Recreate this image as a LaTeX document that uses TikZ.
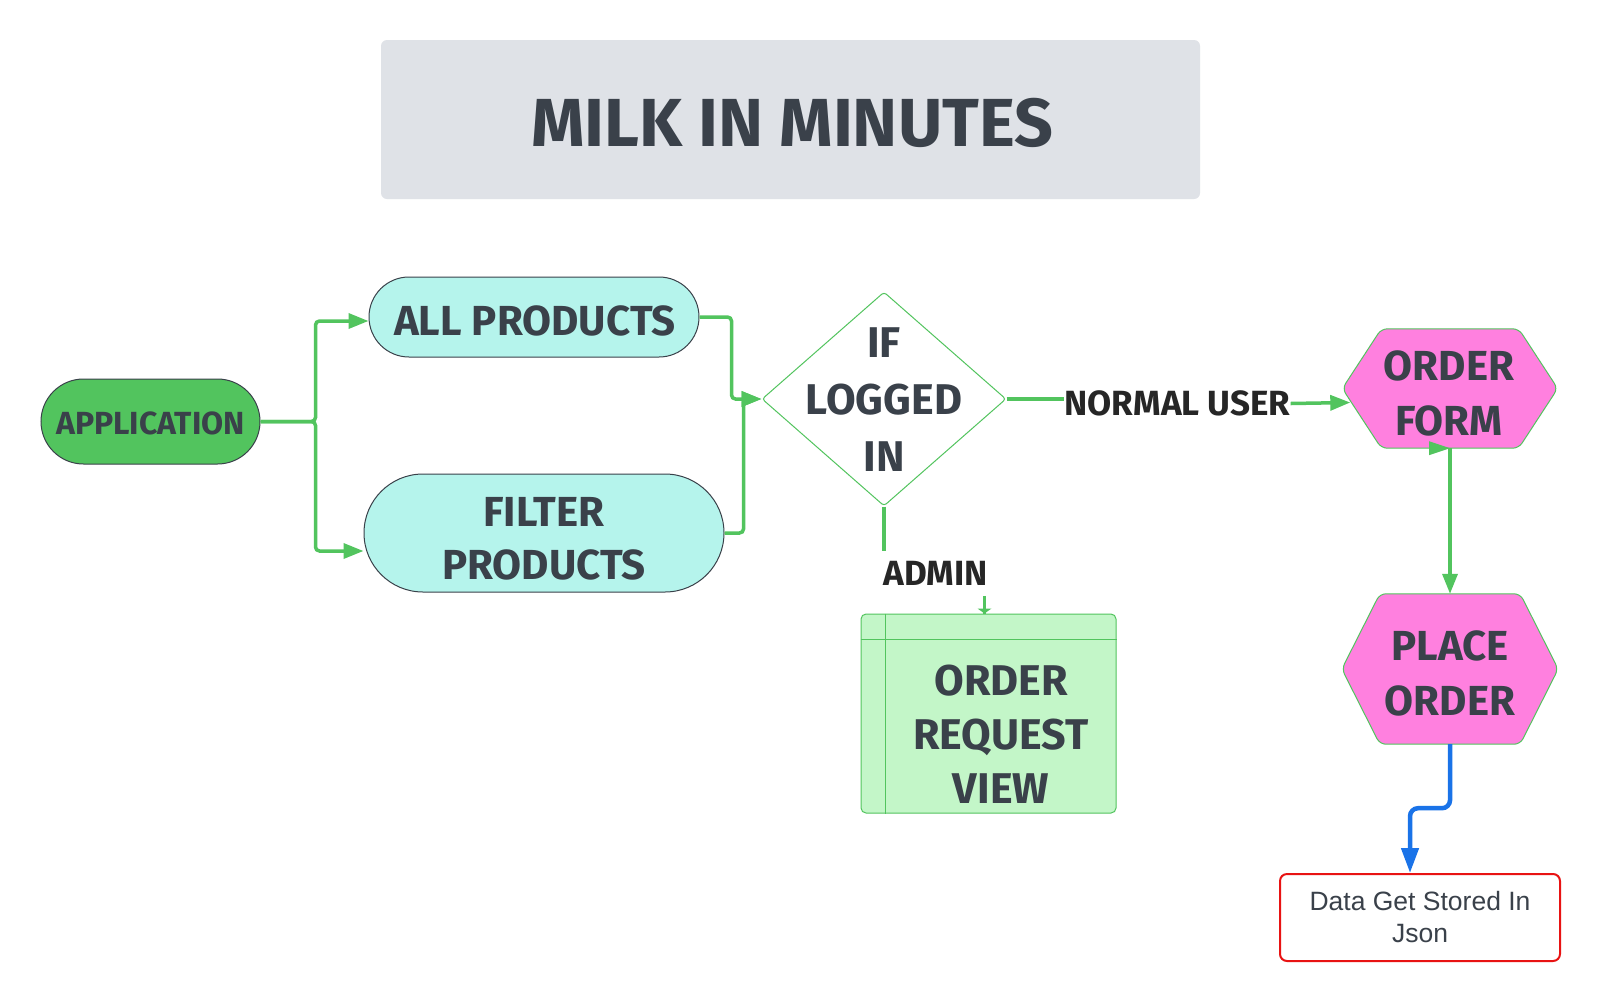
\documentclass[tikz,border=0pt]{standalone}
\usepackage{fontspec}
\setmainfont{Liberation Sans}
\newfontfamily\hand{Fira Sans}
\usetikzlibrary{arrows.meta,shapes.geometric,shapes.misc,calc}
\definecolor{grn}{HTML}{52C45E}
\definecolor{ink}{HTML}{3A414A}
\definecolor{lbl}{HTML}{262626}
\definecolor{cyanf}{HTML}{B5F4EC}
\definecolor{pinkf}{HTML}{FF80DF}
\definecolor{lgreen}{HTML}{C3F6C8}
\definecolor{titlebg}{HTML}{DFE2E7}
\definecolor{blu}{HTML}{1A73E8}
\definecolor{redb}{HTML}{E81313}
\begin{document}
\begin{tikzpicture}[x=1pt,y=-1pt,
  txt/.style={font=\hand\bfseries\fontsize{42}{55}\selectfont, text=ink, align=center, inner sep=0pt},
  small/.style={font=\hand\bfseries\fontsize{32}{40}\selectfont, text=ink, align=center, inner sep=0pt},
  titlef/.style={font=\hand\bfseries\fontsize{68}{80}\selectfont, text=ink, inner sep=0pt},
  lab/.style={font=\hand\bfseries\fontsize{35}{40}\selectfont, text=lbl, inner sep=0pt},
  stad/.style={rounded rectangle, draw=ink, line width=1pt, inner sep=0pt},
  box/.style={inner sep=0pt},
  hexs/.style={draw=grn, fill=pinkf, line width=1pt, rounded corners=6pt},
  conn/.style={draw=grn, line width=3.5pt, rounded corners=4pt},
  arr/.style={conn, -{Triangle[length=20pt,width=15pt]}},
  barr/.style={draw=blu, line width=4.5pt, rounded corners=8pt, -{Triangle[length=25pt,width=17pt]}}
]
\useasboundingbox (0,0) rectangle (1600,1002);
\fill[white] (0,0) rectangle (1600,1002);

% title
\node[box, fill=titlebg, rounded corners=6pt, minimum width=819pt, minimum height=159pt] (title) at (790.5,119.5) {};
\node[titlef] (titlet) at (792,122.5) {MILK IN MINUTES};

% application
\node[stad, fill=grn, minimum width=219pt, minimum height=85pt] (app) at (150.5,421.5) {};
\node[small] (appt) at (150.5,423) {APPLICATION};

% all products
\node[stad, fill=cyanf, minimum width=330pt, minimum height=80pt] (allp) at (534,317) {};
\node[txt] (allpt) at (535,321) {ALL PRODUCTS};

% filter products
\node[stad, fill=cyanf, minimum width=360pt, minimum height=118pt] (filt) at (544,533) {};
\node[txt, font=\hand\bfseries\fontsize{42}{53}\selectfont] (filtt) at (544,539) {FILTER\\PRODUCTS};

% decision
\node[diamond, draw=grn, fill=white, line width=1pt, rounded corners=3pt, minimum width=244pt, minimum height=214pt, inner sep=0pt] (dia) at (884,399) {};
\node[txt, font=\hand\bfseries\fontsize{43}{57}\selectfont] (diat) at (884,399.5) {IF\\LOGGED\\IN};

% order form
\node[box, minimum width=215pt, minimum height=119pt] (oform) at (1450,388.5) {};
\draw[hexs] (oform.west) -- ([xshift=39pt]oform.north west) -- ([xshift=-39pt]oform.north east) -- (oform.east) -- ([xshift=-39pt]oform.south east) -- ([xshift=39pt]oform.south west) -- cycle;
\node[txt] (oformt) at (1449,393.5) {ORDER\\FORM};

% place order
\node[box, minimum width=216pt, minimum height=150pt] (place) at (1450,669) {};
\draw[hexs] (place.west) -- ([xshift=38pt]place.north west) -- ([xshift=-38pt]place.north east) -- (place.east) -- ([xshift=-38pt]place.south east) -- ([xshift=38pt]place.south west) -- cycle;
\node[txt] (placet) at (1450,673.5) {PLACE\\ORDER};

% order request view
\node[box, draw=grn, fill=lgreen, line width=1pt, rounded corners=5pt, minimum width=255pt, minimum height=199pt] (orv) at (988.5,713.5) {};
\draw[grn, line width=1pt] ([yshift=-26pt]orv.north west) -- ([yshift=-26pt]orv.north east);
\draw[grn, line width=1pt] ([xshift=25pt]orv.north west) -- ([xshift=25pt]orv.south west);
\node[txt, font=\hand\bfseries\fontsize{43}{54}\selectfont] (orvt) at (1001,734.5) {ORDER\\REQUEST\\VIEW};

% data box
\node[draw=redb, fill=white, line width=2pt, rounded corners=7pt, minimum width=280pt, minimum height=87pt, inner sep=0pt, align=center, text=ink, font=\fontsize{26.5}{32}\selectfont] (data) at (1420,917.5) {Data Get Stored In\\Json};

% labels
\node[lab] (nu) at (1177.5,403.5) {NORMAL USER};
\node[lab, inner ysep=10pt] (adm) at (935.5,573.5) {ADMIN};

% connectors
\draw[arr] (app.east) -- ++(55,0) |- ([yshift=-4pt]allp.west);
\draw[arr] (app.east) -- ++(55,0) |- ([yshift=-18pt]filt.west);
\draw[arr] (allp.east) -- ++(32,0) |- (dia.west);
\draw[arr] (filt.east) -- ++(19,0) |- (dia.west);
\draw[conn] (dia.east) -- (dia.east -| nu.west);
\draw[arr] (nu.east) -- ([xshift=8pt,yshift=-14pt]oform.west);
\draw[conn] (dia.south) -- (dia.south |- adm.north);
\coordinate (orvin) at ([xshift=-4pt]orv.north);
\draw[conn] (orvin |- adm.south) -- (orvin);
\fill[grn] ($(orvin)+(-7,-5)$) -- ($(orvin)+(7,-5)$) -- (orvin) -- cycle;
\draw[arr] (oform.south) -- (place.north);
\fill[grn] ($(oform.south)+(-21,-7)$) -- (oform.south) -- ($(oform.south)+(-21,7)$) -- cycle;
\draw[barr] (place.south) -- ++(0,64) -| ([xshift=-10pt]data.north);
\end{tikzpicture}
\end{document}
